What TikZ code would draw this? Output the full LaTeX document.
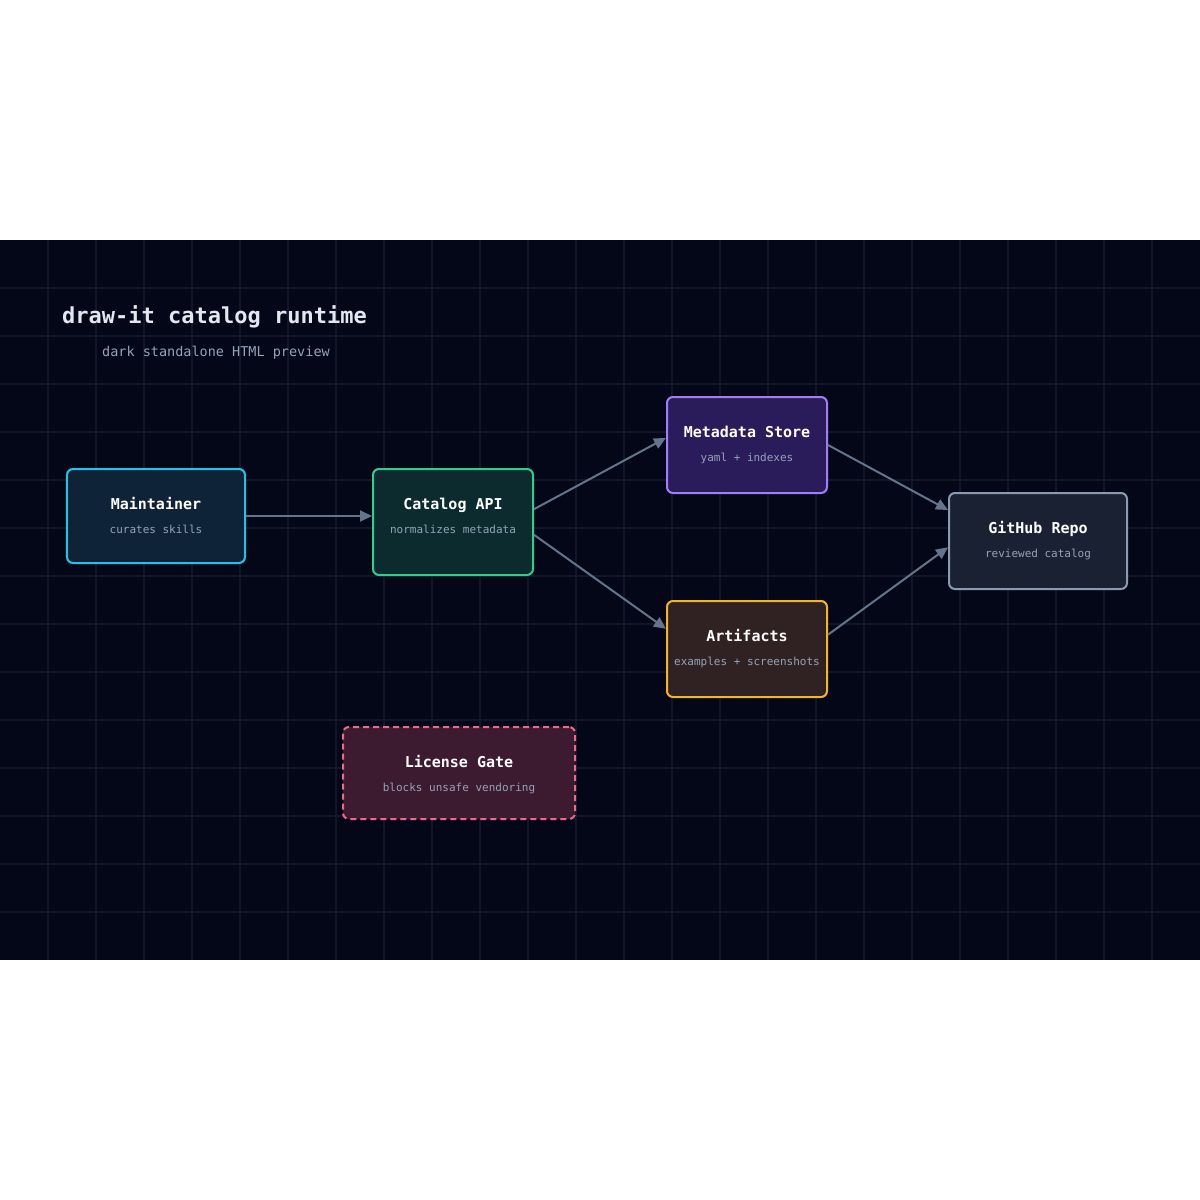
\documentclass[tikz,border=0pt]{standalone}
\usepackage{fontspec}
\newfontfamily\mono{DejaVu Sans Mono}
\usetikzlibrary{arrows.meta,calc}
\definecolor{bg}{HTML}{040717}
\definecolor{gridc}{HTML}{111629}
\definecolor{arrowc}{HTML}{64748B}
\definecolor{headc}{HTML}{E2E8F0}
\definecolor{subc}{HTML}{94A3B8}
\definecolor{edgecyan}{HTML}{22C3E6}   \definecolor{fillcyan}{HTML}{0F2338}
\definecolor{edgegreen}{HTML}{33CC8C}  \definecolor{fillgreen}{HTML}{0B2B2E}
\definecolor{edgeviolet}{HTML}{A07EF5} \definecolor{fillviolet}{HTML}{2A1C5A}
\definecolor{edgeamber}{HTML}{F5B523}  \definecolor{fillamber}{HTML}{302223}
\definecolor{edgeslate}{HTML}{8A9AB0}  \definecolor{fillslate}{HTML}{1A2133}
\definecolor{edgerose}{HTML}{F06883}   \definecolor{fillrose}{HTML}{3C1A30}
\tikzset{
  box/.style={line width=2bp, rounded corners=6bp, inner sep=0pt},
  ttl/.style={anchor=base, inner sep=0pt, text=white, font={\mono\bfseries\fontsize{15bp}{18bp}\selectfont}},
  sub/.style={anchor=base, inner sep=0pt, text=subc, font={\mono\fontsize{11bp}{13bp}\selectfont}},
  flow/.style={draw=arrowc, line width=2bp, -{Triangle[length=12bp,width=11bp]}},
}
\begin{document}
\begin{tikzpicture}[x=1bp, y=-1bp, line join=round]
  \useasboundingbox[fill=white] (0,0) rectangle (1200,1200);
  \fill[bg] (0,240) rectangle (1200,960);
  % grid
  \foreach \gx in {48,96,...,1152}
  \draw[gridc, line width=1.5bp] (\gx,240)--(\gx,960);
  \foreach \gy in {288,336,...,912}
  \draw[gridc, line width=1.5bp] (0,\gy)--(1200,\gy);
  % heading
  \node[anchor=base west, inner sep=0pt, text=headc, font={\mono\bfseries\fontsize{22bp}{26bp}\selectfont}] (title) at (62,323) {draw-it catalog runtime};
  \node[anchor=base west, inner sep=0pt, text=subc, font={\mono\fontsize{13.5bp}{16bp}\selectfont}] (subtitle) at (102,356) {dark standalone HTML preview};
  % boxes
  \foreach \n/\x/\y/\w/\h/\c/\head/\desc in {
    main/156/516/178/94/cyan/Maintainer/curates skills,
    cat/453/522/160/106/green/Catalog API/normalizes metadata,
    meta/747/445/160/96/violet/Metadata Store/yaml + indexes,
    art/747/649/160/96/amber/Artifacts/examples + screenshots,
    git/1038/541/178/96/slate/GitHub Repo/reviewed catalog}
  {
    \node[box, draw=edge\c, fill=fill\c, minimum width=\w bp, minimum height=\h bp] (\n) at (\x,\y) {};
    \node[ttl] (\n-t) at ([yshift=-41bp]\n.north) {\head};
    \node[sub] (\n-s) at ([yshift=-65bp]\n.north) {\desc};
  }
  \node[box, draw=edgerose, fill=fillrose, dash pattern=on 6bp off 4bp, minimum width=232bp, minimum height=92bp] (lic) at (459,773) {};
  \node[ttl] (lic-t) at ([yshift=-41bp]lic.north) {License Gate};
  \node[sub] (lic-s) at ([yshift=-65bp]lic.north) {blocks unsafe vendoring};
  % connectors
  \draw[flow] (main.east) -- (main.east -| cat.west);
  \draw[flow] (cat.9) -- (meta.175);
  \draw[flow] (cat.-9) -- (art.166);
  \draw[flow] (meta.east) -- (git.161);
  \draw[flow] (art.10) -- (git.184);
\end{tikzpicture}
\end{document}
